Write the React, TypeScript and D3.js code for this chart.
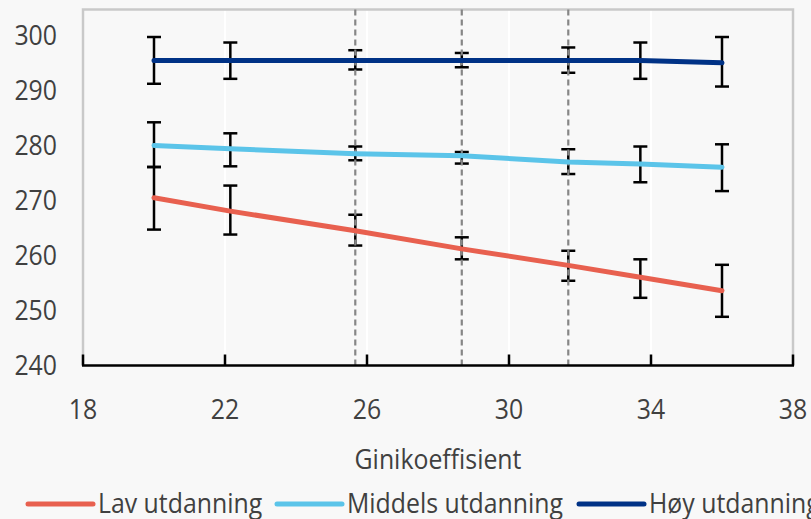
import { useEffect, useRef } from "react";
import * as d3 from "d3";

// Ginikoeffisient per punkt
const giniValues = [20.0, 22.15, 25.67, 28.67, 31.67, 33.7, 36.0];

const lavMean = [270.5, 268.05, 264.5, 261.2, 258.2, 256.05, 253.6];
const lavLow = [264.7, 263.8, 261.8, 259.3, 255.4, 252.3, 248.85];
const lavHigh = [276.1, 272.7, 267.4, 263.3, 260.85, 259.3, 258.3];

const middelsMean = [280.0, 279.4, 278.5, 278.1, 277.0, 276.6, 276.05];
const middelsLow = [276.05, 276.2, 277.3, 276.7, 274.8, 273.3, 271.7];
const middelsHigh = [284.2, 282.2, 279.8, 278.8, 279.3, 279.8, 280.2];

const hoyMean = [295.45, 295.45, 295.45, 295.45, 295.45, 295.45, 295.0];
const hoyLow = [291.2, 292.1, 293.8, 294.2, 293.2, 292.1, 290.7];
const hoyHigh = [299.7, 298.7, 297.3, 296.8, 297.8, 298.7, 299.7];

const seriesNames = ["Lav utdanning", "Middels utdanning", "Høy utdanning"];
const seriesColors = ["#E8604F", "#5BC4E9", "#003286"];

const xTicks = [18, 22, 26, 30, 34, 38];
const yTicks = [240, 250, 260, 270, 280, 290, 300];
const dashedX = [25.67, 28.67, 31.67];

const App = () => {
  const svgRef = useRef<SVGSVGElement>(null);

  useEffect(() => {
    if (!svgRef.current) return;
    d3.select(svgRef.current).selectAll("*").remove();

    const width = 811;
    const height = 519;
    const font = "'Open Sans', 'Noto Sans', sans-serif";
    const textColor = "#404040";
    const squeeze = 0.92;

    const svg = d3.select(svgRef.current)
      .attr("width", width)
      .attr("height", height)
      .style("display", "block")
      .style("background", "#F8F8F8");

    const x = d3.scaleLinear().domain([18, 38]).range([83, 793]);
    const y = d3.scaleLinear().domain([240, 304.7]).range([365.5, 9.5]);

    const series = [
      { mean: lavMean, low: lavLow, high: lavHigh },
      { mean: middelsMean, low: middelsLow, high: middelsHigh },
      { mean: hoyMean, low: hoyLow, high: hoyHigh },
    ];

    // White vertical gridlines
    svg.append("g")
      .selectAll("line")
      .data(xTicks.slice(1, -1))
      .join("line")
      .attr("x1", d => x(d))
      .attr("x2", d => x(d))
      .attr("y1", y.range()[1])
      .attr("y2", y.range()[0])
      .attr("stroke", "#FFFFFF")
      .attr("stroke-width", 2);

    // Plot border (top, left, right)
    svg.append("path")
      .attr("d", `M ${x(18)},${y(240)} L ${x(18)},${y.range()[1]} L ${x(38)},${y.range()[1]} L ${x(38)},${y(240)}`)
      .attr("fill", "none")
      .attr("stroke", "#C9C9C9")
      .attr("stroke-width", 2.5);

    // Error bars
    const capHalf = 7;
    series.forEach(s => {
      const g = svg.append("g");
      g.selectAll("line.v")
        .data(giniValues)
        .join("line")
        .attr("class", "v")
        .attr("x1", d => x(d))
        .attr("x2", d => x(d))
        .attr("y1", (_, i) => y(s.low[i]))
        .attr("y2", (_, i) => y(s.high[i]))
        .attr("stroke", "#000")
        .attr("stroke-width", 2.5);
      [s.low, s.high].forEach(arr => {
        g.append("g")
          .selectAll("line")
          .data(giniValues)
          .join("line")
          .attr("x1", d => x(d) - capHalf)
          .attr("x2", d => x(d) + capHalf)
          .attr("y1", (_, i) => y(arr[i]))
          .attr("y2", (_, i) => y(arr[i]))
          .attr("stroke", "#000")
          .attr("stroke-width", 2.5);
      });
    });

    // Dashed reference lines
    svg.append("g")
      .selectAll("line")
      .data(dashedX)
      .join("line")
      .attr("x1", d => x(d))
      .attr("x2", d => x(d))
      .attr("y1", y.range()[1])
      .attr("y2", y(240))
      .attr("stroke", "#868686")
      .attr("stroke-width", 2.2)
      .attr("stroke-dasharray", "6,4");

    // Series lines
    const line = d3.line<number>()
      .x((_, i) => x(giniValues[i]))
      .y(d => y(d));

    series.forEach((s, i) => {
      svg.append("path")
        .datum(s.mean)
        .attr("d", line)
        .attr("fill", "none")
        .attr("stroke", seriesColors[i])
        .attr("stroke-width", 5)
        .attr("stroke-linecap", "round")
        .attr("stroke-linejoin", "round");
    });

    // X axis
    svg.append("line")
      .attr("x1", x(18) - 1)
      .attr("x2", x(38) + 1)
      .attr("y1", y(240))
      .attr("y2", y(240))
      .attr("stroke", "#000")
      .attr("stroke-width", 2.5);

    svg.append("g")
      .selectAll("line")
      .data(xTicks)
      .join("line")
      .attr("x1", d => x(d))
      .attr("x2", d => x(d))
      .attr("y1", y(240))
      .attr("y2", y(240) - 11)
      .attr("stroke", "#000")
      .attr("stroke-width", 2.5);

    const addText = (tx: number, ty: number, txt: string, anchor: string) =>
      svg.append("text")
        .attr("transform", `translate(${tx},${ty}) scale(${squeeze},1)`)
        .attr("text-anchor", anchor)
        .style("font-family", font)
        .style("font-size", "27px")
        .style("fill", textColor)
        .text(txt);

    xTicks.forEach(t => addText(x(t), 419, String(t), "middle"));
    yTicks.forEach(t => addText(57, y(t) + 9.5, String(t), "end"));

    addText((x(18) + x(38)) / 2, 469, "Ginikoeffisient", "middle");

    // Legend
    const legendX = [28, 277, 579];
    seriesNames.forEach((name, i) => {
      svg.append("line")
        .attr("x1", legendX[i])
        .attr("x2", legendX[i] + 65)
        .attr("y1", 504)
        .attr("y2", 504)
        .attr("stroke", seriesColors[i])
        .attr("stroke-width", 5)
        .attr("stroke-linecap", "round");
      addText(legendX[i] + 70, 513, name, "start");
    });
  }, []);

  return (
    <div style={{ position: "absolute", left: 0, top: 0 }}>
      <svg ref={svgRef}></svg>
    </div>
  );
};

export default App;
